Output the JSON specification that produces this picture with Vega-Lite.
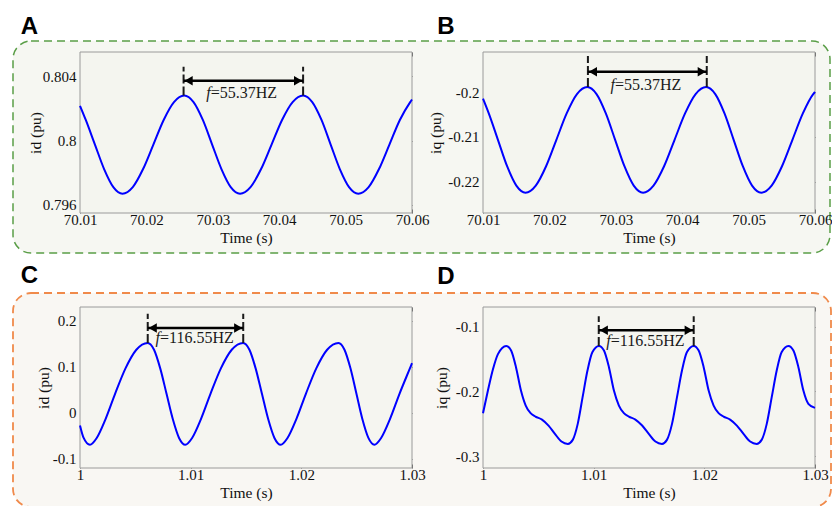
{
  "$schema": "https://vega.github.io/schema/vega-lite/v6.json",
  "background": "white",
  "padding": {"left": 12, "top": 14, "right": 0, "bottom": 0},
  "spacing": 9,
  "datasets": {
    "curveA": [
      {"t":70.01,"v":0.80216},{"t":70.01087,"v":0.80128},{"t":70.01225,"v":0.79975},{"t":70.01363,"v":0.79823},{"t":70.01502,"v":0.79711},{"t":70.0164,"v":0.7967},
      {"t":70.01795,"v":0.79711},{"t":70.0195,"v":0.79823},{"t":70.02105,"v":0.79975},{"t":70.0226,"v":0.80128},{"t":70.02415,"v":0.80239},{"t":70.0257,"v":0.8028},
      {"t":70.0271,"v":0.80239},{"t":70.0285,"v":0.80128},{"t":70.0299,"v":0.79975},{"t":70.0313,"v":0.79823},{"t":70.0327,"v":0.79711},{"t":70.0341,"v":0.7967},
      {"t":70.03568,"v":0.79711},{"t":70.03727,"v":0.79823},{"t":70.03885,"v":0.79975},{"t":70.04043,"v":0.80128},{"t":70.04202,"v":0.80239},{"t":70.0436,"v":0.8028},
      {"t":70.04498,"v":0.80239},{"t":70.04637,"v":0.80128},{"t":70.04775,"v":0.79975},{"t":70.04913,"v":0.79823},{"t":70.05052,"v":0.79711},{"t":70.0519,"v":0.7967},
      {"t":70.05347,"v":0.79711},{"t":70.05503,"v":0.79823},{"t":70.0566,"v":0.79975},{"t":70.05817,"v":0.80128},{"t":70.05973,"v":0.80239},{"t":70.06,"v":0.80255}
    ],
    "curveB": [
      {"t":70.01,"v":-0.20148},{"t":70.01087,"v":-0.20476},{"t":70.01225,"v":-0.21063},{"t":70.01363,"v":-0.2165},{"t":70.01502,"v":-0.2208},{"t":70.0164,"v":-0.22237},
      {"t":70.01795,"v":-0.2208},{"t":70.0195,"v":-0.2165},{"t":70.02105,"v":-0.21063},{"t":70.0226,"v":-0.20476},{"t":70.02415,"v":-0.20046},{"t":70.0257,"v":-0.19889},
      {"t":70.0271,"v":-0.20046},{"t":70.0285,"v":-0.20476},{"t":70.0299,"v":-0.21063},{"t":70.0313,"v":-0.2165},{"t":70.0327,"v":-0.2208},{"t":70.0341,"v":-0.22237},
      {"t":70.03568,"v":-0.2208},{"t":70.03727,"v":-0.2165},{"t":70.03885,"v":-0.21063},{"t":70.04043,"v":-0.20476},{"t":70.04202,"v":-0.20046},{"t":70.0436,"v":-0.19889},
      {"t":70.04498,"v":-0.20046},{"t":70.04637,"v":-0.20476},{"t":70.04775,"v":-0.21063},{"t":70.04913,"v":-0.2165},{"t":70.05052,"v":-0.2208},{"t":70.0519,"v":-0.22237},
      {"t":70.05347,"v":-0.2208},{"t":70.05503,"v":-0.2165},{"t":70.0566,"v":-0.21063},{"t":70.05817,"v":-0.20476},{"t":70.05973,"v":-0.20046},{"t":70.06,"v":-0.2}
    ],
    "curveC": [
      {"t":1.0,"v":-0.0275},{"t":1.00033,"v":-0.0548},{"t":1.0009,"v":-0.0697},
      {"t":1.00151,"v":-0.0548},{"t":1.0023,"v":-0.0142},{"t":1.00317,"v":0.0413},{"t":1.00411,"v":0.0968},{"t":1.00509,"v":0.1374},{"t":1.00612,"v":0.1523},
      {"t":1.00669,"v":0.1374},{"t":1.00725,"v":0.0968},{"t":1.00782,"v":0.0413},{"t":1.00839,"v":-0.0142},{"t":1.00895,"v":-0.0548},{"t":1.00952,"v":-0.0697},
      {"t":1.01013,"v":-0.0548},{"t":1.01092,"v":-0.0142},{"t":1.01179,"v":0.0413},{"t":1.01273,"v":0.0968},{"t":1.01371,"v":0.1374},{"t":1.01474,"v":0.1523},
      {"t":1.01531,"v":0.1374},{"t":1.01587,"v":0.0968},{"t":1.01644,"v":0.0413},{"t":1.01701,"v":-0.0142},{"t":1.01757,"v":-0.0548},{"t":1.01814,"v":-0.0697},
      {"t":1.01875,"v":-0.0548},{"t":1.01954,"v":-0.0142},{"t":1.02041,"v":0.0413},{"t":1.02135,"v":0.0968},{"t":1.02233,"v":0.1374},{"t":1.02336,"v":0.1523},
      {"t":1.0239,"v":0.1374},{"t":1.02444,"v":0.0968},{"t":1.02498,"v":0.0413},{"t":1.02552,"v":-0.0142},{"t":1.02606,"v":-0.0548},{"t":1.0266,"v":-0.0697},
      {"t":1.02721,"v":-0.0548},{"t":1.028,"v":-0.0142},{"t":1.02887,"v":0.0413},{"t":1.02981,"v":0.0968},{"t":1.03,"v":0.108}
    ],
    "curveD": [
      {"t":1.0,"v":-0.2336},{"t":1.00045,"v":-0.198},{"t":1.0009,"v":-0.1655},{"t":1.00135,"v":-0.142},{"t":1.0021,"v":-0.1293},
      {"t":1.00254,"v":-0.1365},{"t":1.00298,"v":-0.1623},{"t":1.00343,"v":-0.1985},{"t":1.00386,"v":-0.2218},{"t":1.0043,"v":-0.2336},{"t":1.00474,"v":-0.2388},
      {"t":1.00533,"v":-0.2435},{"t":1.00592,"v":-0.2528},{"t":1.0065,"v":-0.2657},{"t":1.00709,"v":-0.2776},{"t":1.00767,"v":-0.2812},{"t":1.00811,"v":-0.275},
      {"t":1.00856,"v":-0.2502},{"t":1.009,"v":-0.2088},{"t":1.00944,"v":-0.1675},{"t":1.00988,"v":-0.1391},{"t":1.01048,"v":-0.1293},
      {"t":1.01093,"v":-0.1365},{"t":1.01138,"v":-0.1623},{"t":1.01183,"v":-0.1985},{"t":1.01228,"v":-0.2218},{"t":1.01273,"v":-0.2336},{"t":1.01318,"v":-0.2388},
      {"t":1.01377,"v":-0.2435},{"t":1.01438,"v":-0.2528},{"t":1.01498,"v":-0.2657},{"t":1.01558,"v":-0.2776},{"t":1.01617,"v":-0.2812},{"t":1.01662,"v":-0.275},
      {"t":1.01708,"v":-0.2502},{"t":1.01753,"v":-0.2088},{"t":1.01798,"v":-0.1675},{"t":1.01842,"v":-0.1391},{"t":1.01904,"v":-0.1293},
      {"t":1.01949,"v":-0.1365},{"t":1.01994,"v":-0.1623},{"t":1.02039,"v":-0.1985},{"t":1.02084,"v":-0.2218},{"t":1.02129,"v":-0.2336},{"t":1.02174,"v":-0.2388},
      {"t":1.02233,"v":-0.2435},{"t":1.02294,"v":-0.2528},{"t":1.02354,"v":-0.2657},{"t":1.02414,"v":-0.2776},{"t":1.02473,"v":-0.2812},{"t":1.02518,"v":-0.275},
      {"t":1.02564,"v":-0.2502},{"t":1.02609,"v":-0.2088},{"t":1.02654,"v":-0.1675},{"t":1.02698,"v":-0.1391},{"t":1.0276,"v":-0.1293},
      {"t":1.02805,"v":-0.1365},{"t":1.0285,"v":-0.1623},{"t":1.02895,"v":-0.1985},{"t":1.0294,"v":-0.219},{"t":1.03,"v":-0.2254}
    ],
    "frA": [{"x1":70.01,"x2":70.06,"y1":0.7955,"y2":0.8055}],
    "frB": [{"x1":70.01,"x2":70.06,"y1":-0.2269,"y2":-0.1911}],
    "frC": [{"x1":1.0,"x2":1.03,"y1":-0.1203,"y2":0.2305}],
    "frD": [{"x1":1.0,"x2":1.03,"y1":-0.3186,"y2":-0.069}],
    "lbA": [{"x":70.00107,"y":0.80662,"label":"A"}],
    "lbB": [{"x":70.00312,"y":-0.1871,"label":"B"}],
    "lbC": [{"x":0.99464,"y":0.28279,"label":"C"}],
    "lbD": [{"x":0.99587,"y":-0.03288,"label":"D"}],
    "vlA": [{"x":70.0256,"y1":0.8028,"y2":0.80459},{"x":70.0436,"y1":0.8028,"y2":0.80459}],
    "arA": [{"x1":70.0256,"x2":70.0436,"y":0.80371}],
    "txA": [{"x":70.02968,"y":0.80298,"f":"f","rest":"=55.37HZ"}],
    "vlB": [{"x":70.0258,"y1":-0.19889,"y2":-0.192},{"x":70.0437,"y1":-0.19889,"y2":-0.192}],
    "arB": [{"x1":70.0258,"x2":70.0437,"y":-0.19549}],
    "txB": [{"x":70.02988,"y":-0.1984,"f":"f","rest":"=55.37HZ"}],
    "vlC": [{"x":1.00612,"y1":0.1523,"y2":0.2159},{"x":1.01475,"y1":0.1523,"y2":0.2159}],
    "arC": [{"x1":1.00612,"x2":1.01475,"y":0.1847}],
    "txC": [{"x":1.00723,"y":0.163,"f":"f","rest":"=116.55HZ"}],
    "vlD": [{"x":1.01046,"y1":-0.1293,"y2":-0.0834},{"x":1.01904,"y1":-0.1293,"y2":-0.0834}],
    "arD": [{"x1":1.01046,"x2":1.01904,"y":-0.1051}],
    "txD": [{"x":1.01154,"y":-0.122,"f":"f","rest":"=116.55HZ"}]
  },
  "vconcat": [
    {
      "width": 817, "height": 212,
      "view": {"stroke": "#5a9e47", "strokeWidth": 1.5, "strokeDash": [8, 5], "cornerRadius": 18, "fill": "#f6f7f2"},
      "layer": [
        {"data": {"name": "frA"}, "mark": {"type": "rect", "fill": "#f4f5ef", "stroke": "#9a9a9a", "strokeWidth": 1},
         "encoding": {"x": {"field": "x1", "type": "quantitative", "scale": {"domain": [70.01, 70.06], "range": [67, 399], "nice": false, "zero": false}, "axis": null}, "x2": {"field": "x2"},
                      "y": {"field": "y1", "type": "quantitative", "scale": {"domain": [0.7955, 0.8055], "range": [172, 11], "nice": false, "zero": false}, "axis": null}, "y2": {"field": "y2"}}},
        {"data": {"name": "curveA"}, "mark": {"type": "line", "color": "#0000ff", "strokeWidth": 2, "interpolate": "monotone"},
         "encoding": {
           "x": {"field": "t", "type": "quantitative", "scale": {"domain": [70.01, 70.06], "range": [67, 399], "nice": false, "zero": false},
                 "axis": {"orient": "bottom", "offset": -40, "values": [70.01, 70.02, 70.03, 70.04, 70.05, 70.06], "title": "Time (s)", "labelExpr": "'' + datum.value", "labelPadding": 3, "titlePadding": 3}},
           "y": {"field": "v", "type": "quantitative", "scale": {"domain": [0.7955, 0.8055], "range": [172, 11], "nice": false, "zero": false},
                 "axis": {"orient": "left", "offset": -67, "values": [0.796, 0.8, 0.804], "title": "id (pu)", "labelExpr": "'' + datum.value", "labelPadding": 8, "titlePadding": -1}}}},
        {"data": {"name": "vlA"}, "mark": {"type": "rule", "color": "#1a1a1a", "strokeWidth": 2, "strokeDash": [9, 3]},
         "encoding": {
           "x": {"field": "x", "type": "quantitative", "scale": {"domain": [70.01, 70.06], "range": [67, 399], "nice": false, "zero": false},
                 "axis": {"orient": "top", "offset": -11, "values": [70.01, 70.02, 70.03, 70.04, 70.05, 70.06], "labels": false, "title": null}},
           "y": {"field": "y1", "type": "quantitative", "scale": {"domain": [0.7955, 0.8055], "range": [172, 11], "nice": false, "zero": false},
                 "axis": {"orient": "right", "offset": -418, "values": [0.796, 0.8, 0.804], "labels": false, "title": null}},
           "y2": {"field": "y2"}}},
        {"data": {"name": "arA"}, "mark": {"type": "rule", "color": "#000000", "strokeWidth": 2.5},
         "encoding": {"x": {"field": "x1", "type": "quantitative", "scale": {"domain": [70.01, 70.06], "range": [67, 399], "nice": false, "zero": false}, "axis": null}, "x2": {"field": "x2"},
                      "y": {"field": "y", "type": "quantitative", "scale": {"domain": [0.7955, 0.8055], "range": [172, 11], "nice": false, "zero": false}, "axis": null}}},
        {"data": {"name": "arA"}, "mark": {"type": "point", "shape": "triangle-left", "filled": true, "color": "#000000", "opacity": 1, "size": 90, "xOffset": 5},
         "encoding": {"x": {"field": "x1", "type": "quantitative", "scale": {"domain": [70.01, 70.06], "range": [67, 399], "nice": false, "zero": false}, "axis": null},
                      "y": {"field": "y", "type": "quantitative", "scale": {"domain": [0.7955, 0.8055], "range": [172, 11], "nice": false, "zero": false}, "axis": null}}},
        {"data": {"name": "arA"}, "mark": {"type": "point", "shape": "triangle-right", "filled": true, "color": "#000000", "opacity": 1, "size": 90, "xOffset": -5},
         "encoding": {"x": {"field": "x2", "type": "quantitative", "scale": {"domain": [70.01, 70.06], "range": [67, 399], "nice": false, "zero": false}, "axis": null},
                      "y": {"field": "y", "type": "quantitative", "scale": {"domain": [0.7955, 0.8055], "range": [172, 11], "nice": false, "zero": false}, "axis": null}}},
        {"data": {"name": "txA"}, "mark": {"type": "text", "align": "right", "baseline": "middle", "font": "Liberation Serif", "fontStyle": "italic", "fontSize": 16, "color": "#1a1a1a"},
         "encoding": {"x": {"field": "x", "type": "quantitative", "scale": {"domain": [70.01, 70.06], "range": [67, 399], "nice": false, "zero": false}, "axis": null},
                      "y": {"field": "y", "type": "quantitative", "scale": {"domain": [0.7955, 0.8055], "range": [172, 11], "nice": false, "zero": false}, "axis": null},
                      "text": {"field": "f"}}},
        {"data": {"name": "txA"}, "mark": {"type": "text", "align": "left", "baseline": "middle", "font": "Liberation Serif", "fontSize": 16, "color": "#1a1a1a"},
         "encoding": {"x": {"field": "x", "type": "quantitative", "scale": {"domain": [70.01, 70.06], "range": [67, 399], "nice": false, "zero": false}, "axis": null},
                      "y": {"field": "y", "type": "quantitative", "scale": {"domain": [0.7955, 0.8055], "range": [172, 11], "nice": false, "zero": false}, "axis": null},
                      "text": {"field": "rest"}}},
        {"data": {"name": "lbA"}, "mark": {"type": "text", "align": "left", "baseline": "alphabetic", "font": "Liberation Sans", "fontWeight": "bold", "fontSize": 24, "color": "#000000"},
         "encoding": {"x": {"field": "x", "type": "quantitative", "scale": {"domain": [70.01, 70.06], "range": [67, 399], "nice": false, "zero": false}, "axis": null},
                      "y": {"field": "y", "type": "quantitative", "scale": {"domain": [0.7955, 0.8055], "range": [172, 11], "nice": false, "zero": false}, "axis": null},
                      "text": {"field": "label"}}},

        {"data": {"name": "frB"}, "mark": {"type": "rect", "fill": "#f4f5ef", "stroke": "#9a9a9a", "strokeWidth": 1},
         "encoding": {"x": {"field": "x1", "type": "quantitative", "scale": {"domain": [70.01, 70.06], "range": [470, 802], "nice": false, "zero": false}, "axis": null}, "x2": {"field": "x2"},
                      "y": {"field": "y1", "type": "quantitative", "scale": {"domain": [-0.2269, -0.1911], "range": [172, 11], "nice": false, "zero": false}, "axis": null}, "y2": {"field": "y2"}}},
        {"data": {"name": "curveB"}, "mark": {"type": "line", "color": "#0000ff", "strokeWidth": 2, "interpolate": "monotone"},
         "encoding": {
           "x": {"field": "t", "type": "quantitative", "scale": {"domain": [70.01, 70.06], "range": [470, 802], "nice": false, "zero": false},
                 "axis": {"orient": "bottom", "offset": -40, "values": [70.01, 70.02, 70.03, 70.04, 70.05, 70.06], "title": "Time (s)", "labelExpr": "'' + datum.value", "labelPadding": 3, "titlePadding": 3}},
           "y": {"field": "v", "type": "quantitative", "scale": {"domain": [-0.2269, -0.1911], "range": [172, 11], "nice": false, "zero": false},
                 "axis": {"orient": "left", "offset": -470, "values": [-0.22, -0.21, -0.2], "title": "iq (pu)", "labelExpr": "'' + datum.value", "labelPadding": 8, "titlePadding": 4}}}},
        {"data": {"name": "vlB"}, "mark": {"type": "rule", "color": "#1a1a1a", "strokeWidth": 2, "strokeDash": [9, 3]},
         "encoding": {
           "x": {"field": "x", "type": "quantitative", "scale": {"domain": [70.01, 70.06], "range": [470, 802], "nice": false, "zero": false},
                 "axis": {"orient": "top", "offset": -11, "values": [70.01, 70.02, 70.03, 70.04, 70.05, 70.06], "labels": false, "title": null}},
           "y": {"field": "y1", "type": "quantitative", "scale": {"domain": [-0.2269, -0.1911], "range": [172, 11], "nice": false, "zero": false},
                 "axis": {"orient": "right", "offset": -15, "values": [-0.22, -0.21, -0.2], "labels": false, "title": null}},
           "y2": {"field": "y2"}}},
        {"data": {"name": "arB"}, "mark": {"type": "rule", "color": "#000000", "strokeWidth": 2.5},
         "encoding": {"x": {"field": "x1", "type": "quantitative", "scale": {"domain": [70.01, 70.06], "range": [470, 802], "nice": false, "zero": false}, "axis": null}, "x2": {"field": "x2"},
                      "y": {"field": "y", "type": "quantitative", "scale": {"domain": [-0.2269, -0.1911], "range": [172, 11], "nice": false, "zero": false}, "axis": null}}},
        {"data": {"name": "arB"}, "mark": {"type": "point", "shape": "triangle-left", "filled": true, "color": "#000000", "opacity": 1, "size": 90, "xOffset": 5},
         "encoding": {"x": {"field": "x1", "type": "quantitative", "scale": {"domain": [70.01, 70.06], "range": [470, 802], "nice": false, "zero": false}, "axis": null},
                      "y": {"field": "y", "type": "quantitative", "scale": {"domain": [-0.2269, -0.1911], "range": [172, 11], "nice": false, "zero": false}, "axis": null}}},
        {"data": {"name": "arB"}, "mark": {"type": "point", "shape": "triangle-right", "filled": true, "color": "#000000", "opacity": 1, "size": 90, "xOffset": -5},
         "encoding": {"x": {"field": "x2", "type": "quantitative", "scale": {"domain": [70.01, 70.06], "range": [470, 802], "nice": false, "zero": false}, "axis": null},
                      "y": {"field": "y", "type": "quantitative", "scale": {"domain": [-0.2269, -0.1911], "range": [172, 11], "nice": false, "zero": false}, "axis": null}}},
        {"data": {"name": "txB"}, "mark": {"type": "text", "align": "right", "baseline": "middle", "font": "Liberation Serif", "fontStyle": "italic", "fontSize": 16, "color": "#1a1a1a"},
         "encoding": {"x": {"field": "x", "type": "quantitative", "scale": {"domain": [70.01, 70.06], "range": [470, 802], "nice": false, "zero": false}, "axis": null},
                      "y": {"field": "y", "type": "quantitative", "scale": {"domain": [-0.2269, -0.1911], "range": [172, 11], "nice": false, "zero": false}, "axis": null},
                      "text": {"field": "f"}}},
        {"data": {"name": "txB"}, "mark": {"type": "text", "align": "left", "baseline": "middle", "font": "Liberation Serif", "fontSize": 16, "color": "#1a1a1a"},
         "encoding": {"x": {"field": "x", "type": "quantitative", "scale": {"domain": [70.01, 70.06], "range": [470, 802], "nice": false, "zero": false}, "axis": null},
                      "y": {"field": "y", "type": "quantitative", "scale": {"domain": [-0.2269, -0.1911], "range": [172, 11], "nice": false, "zero": false}, "axis": null},
                      "text": {"field": "rest"}}},
        {"data": {"name": "lbB"}, "mark": {"type": "text", "align": "left", "baseline": "alphabetic", "font": "Liberation Sans", "fontWeight": "bold", "fontSize": 24, "color": "#000000"},
         "encoding": {"x": {"field": "x", "type": "quantitative", "scale": {"domain": [70.01, 70.06], "range": [470, 802], "nice": false, "zero": false}, "axis": null},
                      "y": {"field": "y", "type": "quantitative", "scale": {"domain": [-0.2269, -0.1911], "range": [172, 11], "nice": false, "zero": false}, "axis": null},
                      "text": {"field": "label"}}}
      ],
      "resolve": {"scale": {"x": "independent", "y": "independent"}, "axis": {"x": "independent", "y": "independent"}}
    },
    {
      "width": 818, "height": 214,
      "view": {"stroke": "#f08a4b", "strokeWidth": 1.8, "strokeDash": [8, 5], "cornerRadius": 18, "fill": "#f9f7f3"},
      "layer": [
        {"data": {"name": "frC"}, "mark": {"type": "rect", "fill": "#f5f5f0", "stroke": "#9a9a9a", "strokeWidth": 1},
         "encoding": {"x": {"field": "x1", "type": "quantitative", "scale": {"domain": [1, 1.03], "range": [67, 399], "nice": false, "zero": false}, "axis": null}, "x2": {"field": "x2"},
                      "y": {"field": "y1", "type": "quantitative", "scale": {"domain": [-0.1203, 0.2305], "range": [175, 14], "nice": false, "zero": false}, "axis": null}, "y2": {"field": "y2"}}},
        {"data": {"name": "curveC"}, "mark": {"type": "line", "color": "#0000ff", "strokeWidth": 2, "interpolate": "monotone"},
         "encoding": {
           "x": {"field": "t", "type": "quantitative", "scale": {"domain": [1, 1.03], "range": [67, 399], "nice": false, "zero": false},
                 "axis": {"orient": "bottom", "offset": -39, "values": [1, 1.01, 1.02, 1.03], "title": "Time (s)", "labelExpr": "'' + datum.value", "labelPadding": 3, "titlePadding": 3}},
           "y": {"field": "v", "type": "quantitative", "scale": {"domain": [-0.1203, 0.2305], "range": [175, 14], "nice": false, "zero": false},
                 "axis": {"orient": "left", "offset": -67, "values": [-0.1, 0, 0.1, 0.2], "title": "id (pu)", "labelExpr": "'' + datum.value", "labelPadding": 8, "titlePadding": 1}}}},
        {"data": {"name": "vlC"}, "mark": {"type": "rule", "color": "#1a1a1a", "strokeWidth": 2, "strokeDash": [9, 3]},
         "encoding": {
           "x": {"field": "x", "type": "quantitative", "scale": {"domain": [1, 1.03], "range": [67, 399], "nice": false, "zero": false},
                 "axis": {"orient": "top", "offset": -14, "values": [1, 1.01, 1.02, 1.03], "labels": false, "title": null}},
           "y": {"field": "y1", "type": "quantitative", "scale": {"domain": [-0.1203, 0.2305], "range": [175, 14], "nice": false, "zero": false},
                 "axis": {"orient": "right", "offset": -419, "values": [-0.1, 0, 0.1, 0.2], "labels": false, "title": null}},
           "y2": {"field": "y2"}}},
        {"data": {"name": "arC"}, "mark": {"type": "rule", "color": "#000000", "strokeWidth": 2.5},
         "encoding": {"x": {"field": "x1", "type": "quantitative", "scale": {"domain": [1, 1.03], "range": [67, 399], "nice": false, "zero": false}, "axis": null}, "x2": {"field": "x2"},
                      "y": {"field": "y", "type": "quantitative", "scale": {"domain": [-0.1203, 0.2305], "range": [175, 14], "nice": false, "zero": false}, "axis": null}}},
        {"data": {"name": "arC"}, "mark": {"type": "point", "shape": "triangle-left", "filled": true, "color": "#000000", "opacity": 1, "size": 90, "xOffset": 5},
         "encoding": {"x": {"field": "x1", "type": "quantitative", "scale": {"domain": [1, 1.03], "range": [67, 399], "nice": false, "zero": false}, "axis": null},
                      "y": {"field": "y", "type": "quantitative", "scale": {"domain": [-0.1203, 0.2305], "range": [175, 14], "nice": false, "zero": false}, "axis": null}}},
        {"data": {"name": "arC"}, "mark": {"type": "point", "shape": "triangle-right", "filled": true, "color": "#000000", "opacity": 1, "size": 90, "xOffset": -5},
         "encoding": {"x": {"field": "x2", "type": "quantitative", "scale": {"domain": [1, 1.03], "range": [67, 399], "nice": false, "zero": false}, "axis": null},
                      "y": {"field": "y", "type": "quantitative", "scale": {"domain": [-0.1203, 0.2305], "range": [175, 14], "nice": false, "zero": false}, "axis": null}}},
        {"data": {"name": "txC"}, "mark": {"type": "text", "align": "right", "baseline": "middle", "font": "Liberation Serif", "fontStyle": "italic", "fontSize": 16, "color": "#1a1a1a"},
         "encoding": {"x": {"field": "x", "type": "quantitative", "scale": {"domain": [1, 1.03], "range": [67, 399], "nice": false, "zero": false}, "axis": null},
                      "y": {"field": "y", "type": "quantitative", "scale": {"domain": [-0.1203, 0.2305], "range": [175, 14], "nice": false, "zero": false}, "axis": null},
                      "text": {"field": "f"}}},
        {"data": {"name": "txC"}, "mark": {"type": "text", "align": "left", "baseline": "middle", "font": "Liberation Serif", "fontSize": 16, "color": "#1a1a1a"},
         "encoding": {"x": {"field": "x", "type": "quantitative", "scale": {"domain": [1, 1.03], "range": [67, 399], "nice": false, "zero": false}, "axis": null},
                      "y": {"field": "y", "type": "quantitative", "scale": {"domain": [-0.1203, 0.2305], "range": [175, 14], "nice": false, "zero": false}, "axis": null},
                      "text": {"field": "rest"}}},
        {"data": {"name": "lbC"}, "mark": {"type": "text", "align": "left", "baseline": "alphabetic", "font": "Liberation Sans", "fontWeight": "bold", "fontSize": 24, "color": "#000000"},
         "encoding": {"x": {"field": "x", "type": "quantitative", "scale": {"domain": [1, 1.03], "range": [67, 399], "nice": false, "zero": false}, "axis": null},
                      "y": {"field": "y", "type": "quantitative", "scale": {"domain": [-0.1203, 0.2305], "range": [175, 14], "nice": false, "zero": false}, "axis": null},
                      "text": {"field": "label"}}},

        {"data": {"name": "frD"}, "mark": {"type": "rect", "fill": "#f5f5f0", "stroke": "#9a9a9a", "strokeWidth": 1},
         "encoding": {"x": {"field": "x1", "type": "quantitative", "scale": {"domain": [1, 1.03], "range": [470, 802], "nice": false, "zero": false}, "axis": null}, "x2": {"field": "x2"},
                      "y": {"field": "y1", "type": "quantitative", "scale": {"domain": [-0.3186, -0.069], "range": [175, 14], "nice": false, "zero": false}, "axis": null}, "y2": {"field": "y2"}}},
        {"data": {"name": "curveD"}, "mark": {"type": "line", "color": "#0000ff", "strokeWidth": 2, "interpolate": "monotone"},
         "encoding": {
           "x": {"field": "t", "type": "quantitative", "scale": {"domain": [1, 1.03], "range": [470, 802], "nice": false, "zero": false},
                 "axis": {"orient": "bottom", "offset": -39, "values": [1, 1.01, 1.02, 1.03], "title": "Time (s)", "labelExpr": "'' + datum.value", "labelPadding": 3, "titlePadding": 3}},
           "y": {"field": "v", "type": "quantitative", "scale": {"domain": [-0.3186, -0.069], "range": [175, 14], "nice": false, "zero": false},
                 "axis": {"orient": "left", "offset": -470, "values": [-0.3, -0.2, -0.1], "title": "iq (pu)", "labelExpr": "'' + datum.value", "labelPadding": 8, "titlePadding": 6}}}},
        {"data": {"name": "vlD"}, "mark": {"type": "rule", "color": "#1a1a1a", "strokeWidth": 2, "strokeDash": [9, 3]},
         "encoding": {
           "x": {"field": "x", "type": "quantitative", "scale": {"domain": [1, 1.03], "range": [470, 802], "nice": false, "zero": false},
                 "axis": {"orient": "top", "offset": -14, "values": [1, 1.01, 1.02, 1.03], "labels": false, "title": null}},
           "y": {"field": "y1", "type": "quantitative", "scale": {"domain": [-0.3186, -0.069], "range": [175, 14], "nice": false, "zero": false},
                 "axis": {"orient": "right", "offset": -16, "values": [-0.3, -0.2, -0.1], "labels": false, "title": null}},
           "y2": {"field": "y2"}}},
        {"data": {"name": "arD"}, "mark": {"type": "rule", "color": "#000000", "strokeWidth": 2.5},
         "encoding": {"x": {"field": "x1", "type": "quantitative", "scale": {"domain": [1, 1.03], "range": [470, 802], "nice": false, "zero": false}, "axis": null}, "x2": {"field": "x2"},
                      "y": {"field": "y", "type": "quantitative", "scale": {"domain": [-0.3186, -0.069], "range": [175, 14], "nice": false, "zero": false}, "axis": null}}},
        {"data": {"name": "arD"}, "mark": {"type": "point", "shape": "triangle-left", "filled": true, "color": "#000000", "opacity": 1, "size": 90, "xOffset": 5},
         "encoding": {"x": {"field": "x1", "type": "quantitative", "scale": {"domain": [1, 1.03], "range": [470, 802], "nice": false, "zero": false}, "axis": null},
                      "y": {"field": "y", "type": "quantitative", "scale": {"domain": [-0.3186, -0.069], "range": [175, 14], "nice": false, "zero": false}, "axis": null}}},
        {"data": {"name": "arD"}, "mark": {"type": "point", "shape": "triangle-right", "filled": true, "color": "#000000", "opacity": 1, "size": 90, "xOffset": -5},
         "encoding": {"x": {"field": "x2", "type": "quantitative", "scale": {"domain": [1, 1.03], "range": [470, 802], "nice": false, "zero": false}, "axis": null},
                      "y": {"field": "y", "type": "quantitative", "scale": {"domain": [-0.3186, -0.069], "range": [175, 14], "nice": false, "zero": false}, "axis": null}}},
        {"data": {"name": "txD"}, "mark": {"type": "text", "align": "right", "baseline": "middle", "font": "Liberation Serif", "fontStyle": "italic", "fontSize": 16, "color": "#1a1a1a"},
         "encoding": {"x": {"field": "x", "type": "quantitative", "scale": {"domain": [1, 1.03], "range": [470, 802], "nice": false, "zero": false}, "axis": null},
                      "y": {"field": "y", "type": "quantitative", "scale": {"domain": [-0.3186, -0.069], "range": [175, 14], "nice": false, "zero": false}, "axis": null},
                      "text": {"field": "f"}}},
        {"data": {"name": "txD"}, "mark": {"type": "text", "align": "left", "baseline": "middle", "font": "Liberation Serif", "fontSize": 16, "color": "#1a1a1a"},
         "encoding": {"x": {"field": "x", "type": "quantitative", "scale": {"domain": [1, 1.03], "range": [470, 802], "nice": false, "zero": false}, "axis": null},
                      "y": {"field": "y", "type": "quantitative", "scale": {"domain": [-0.3186, -0.069], "range": [175, 14], "nice": false, "zero": false}, "axis": null},
                      "text": {"field": "rest"}}},
        {"data": {"name": "lbD"}, "mark": {"type": "text", "align": "left", "baseline": "alphabetic", "font": "Liberation Sans", "fontWeight": "bold", "fontSize": 24, "color": "#000000"},
         "encoding": {"x": {"field": "x", "type": "quantitative", "scale": {"domain": [1, 1.03], "range": [470, 802], "nice": false, "zero": false}, "axis": null},
                      "y": {"field": "y", "type": "quantitative", "scale": {"domain": [-0.3186, -0.069], "range": [175, 14], "nice": false, "zero": false}, "axis": null},
                      "text": {"field": "label"}}}
      ],
      "resolve": {"scale": {"x": "independent", "y": "independent"}, "axis": {"x": "independent", "y": "independent"}}
    }
  ],
  "config": {
    "axis": {"domain": false, "grid": false, "ticks": true, "tickSize": -4, "tickColor": "#555555", "tickWidth": 1,
             "labelFont": "Liberation Serif", "labelFontSize": 15, "labelColor": "#111111",
             "titleFont": "Liberation Serif", "titleFontSize": 15.5, "titleFontWeight": "normal", "titleColor": "#111111",
             "labelFlush": false, "labelOverlap": false, "labelBound": false}
  }
}
